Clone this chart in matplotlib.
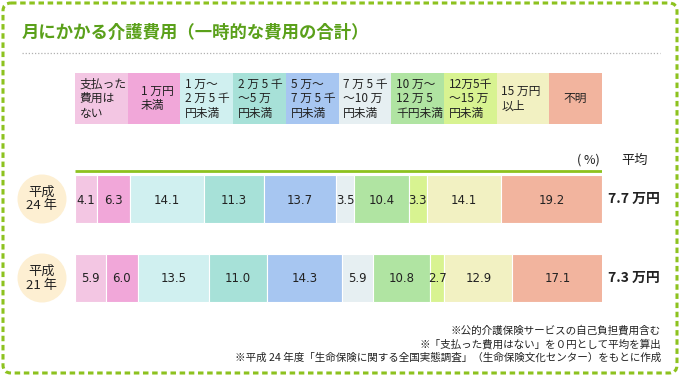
import numpy as np
import matplotlib.pyplot as plt
from matplotlib.patches import FancyBboxPatch, Circle

plt.rcParams['font.family'] = ['Noto Sans CJK JP', 'DejaVu Sans']

categories = ['支払った\n費用は\nない', '1 万円\n未満', '1 万～\n2 万 5 千\n円未満',
              '2 万 5 千\n～5 万\n円未満', '5 万～\n7 万 5 千\n円未満', '7 万 5 千\n～10 万\n円未満',
              '10 万～\n12 万 5\n千円未満', '12万5千\n～15 万\n円未満', '15 万円\n以上', '不明']
years = ['平成\n24 年', '平成\n21 年']
h24 = [4.1, 6.3, 14.1, 11.3, 13.7, 3.5, 10.4, 3.3, 14.1, 19.2]
h21 = [5.9, 6.0, 13.5, 11.0, 14.3, 5.9, 10.8, 2.7, 12.9, 17.1]
averages = ['7.7 万円', '7.3 万円']
notes = ['※公的介護保険サービスの自己負担費用含む',
         '※「支払った費用はない」を０円として平均を算出',
         '※平成 24 年度「生命保険に関する全国実態調査」（生命保険文化センター）をもとに作成']

colors = ['#F3C6E3', '#F1A7D9', '#D0F0F0', '#A7E1D8', '#A7C6F1',
          '#E6EFF2', '#B0E4A2', '#D8F391', '#F2F1C2', '#F2B49E']
green = '#8DC21F'
title_green = '#5AA01A'

fig = plt.figure(figsize=(6.8, 3.77), dpi=100)

# background layer in pixel units
bg = fig.add_axes([0, 0, 1, 1])
bg.set_xlim(0, 680)
bg.set_ylim(377, 0)
bg.axis('off')
bg.add_patch(FancyBboxPatch((3, 3), 674, 370, boxstyle='round,pad=0,rounding_size=8',
                            fill=False, ec=green, lw=2.2, ls=(0, (1.8, 1.2))))
bg.text(22, 33, '月にかかる介護費用（一時的な費用の合計）', color=title_green,
        fontsize=12.5, fontweight='bold', va='center', ha='left')
bg.plot([22, 660], [53, 53], color='#B0B0B0', lw=0.9, ls=(0, (1, 1.5)))

# bars
ax = fig.add_axes([75 / 680, 0, 527 / 680, 1])
ax.set_xlim(0, 100)
ax.set_ylim(377, 0)
ax.axis('off')

# legend row: equal-width boxes
legend_y, legend_h = 98.5, 51
for i, (lab, c) in enumerate(zip(categories, colors)):
    ax.barh(legend_y, 10, left=i * 10, height=legend_h, color=c, lw=0)
    if lab == '不明':
        ax.text(i * 10 + 5, legend_y, lab, ha='center', va='center', fontsize=8.5,
                color='#222222', linespacing=1.15)
    else:
        off = 2.5 if lab.startswith('1 万円') else 0.9
        ax.text(i * 10 + off, legend_y, lab, ha='left', va='center', fontsize=8.5,
                color='#222222', linespacing=1.15)

ax.plot([0, 100], [171, 171], color=green, lw=2, solid_capstyle='butt')

row_y = [199, 278]
for yv, vals in zip(row_y, [h24, h21]):
    left = np.concatenate([[0], np.cumsum(vals)[:-1]])
    ax.barh(yv, vals, left=left, height=48, color=colors, edgecolor='white', lw=0.8)
    for l, v in zip(left, vals):
        ax.text(l + v / 2, yv + 1, f'{v:.1f}', ha='center', va='center',
                fontsize=8.5, color='#222222', family='DejaVu Sans')

# year circles, averages
for yv, yr, av in zip(row_y, years, averages):
    bg.add_patch(Circle((42, yv), 24.5, color='#FDEFD2', lw=0))
    bg.text(42, yv, yr, ha='center', va='center', fontsize=9.5, color='#222222',
            linespacing=1.1)
    bg.text(608, yv, av, ha='left', va='center', fontsize=10, fontweight='bold',
            color='#222222')

bg.text(588, 160, '( %)', ha='center', va='center', fontsize=9, color='#222222')
bg.text(635, 160, '平均', ha='center', va='center', fontsize=9.5, color='#222222')

for yv, n in zip([330, 344, 358], notes):
    bg.text(661, yv, n, ha='right', va='center', fontsize=7.6, color='#222222')

fig.savefig('out.png', dpi=100)
